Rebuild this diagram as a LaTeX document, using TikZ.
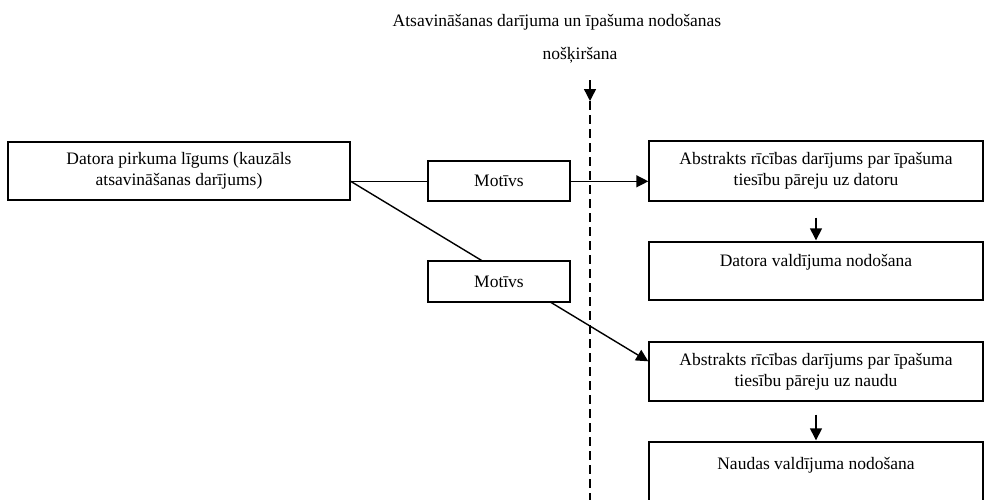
\documentclass[tikz,border=0pt]{standalone}
\usepackage{fontspec}
\setmainfont{Liberation Serif}
\usetikzlibrary{arrows.meta,calc}
\begin{document}
\begin{tikzpicture}[x=1pt,y=-1pt,
  box/.style={draw,line width=1.4pt,fill=white,inner sep=0pt,align=center,
    font=\fontsize{17.5}{21}\selectfont},
  txt/.style={inner sep=0pt,align=center,font=\fontsize{17.5}{21}\selectfont},
  conn/.style={line width=1.4pt},
  arr/.style={line width=1.4pt,-{Triangle[length=12pt,width=12pt]}}]
\useasboundingbox[fill=white] (0,0) rectangle (984,499);
% title
\node[txt,anchor=base] (t1) at (557,26) {Atsavināšanas darījuma un īpašuma nodošanas};
\node[txt,anchor=base] (t2) at (580,59) {nošķiršana};
\coordinate (ds) at (590,80);
\coordinate (dt) at (590,101);
\coordinate (de) at (590,505);
\draw[arr] (ds) -- (dt);
\draw[conn,dash pattern=on 9pt off 5pt] (dt) -- (de);
% boxes
\node[box,minimum width=342pt,minimum height=58pt] (L) at (179,171)
  {Datora pirkuma līgums (kauzāls\\atsavināšanas darījums)};
\node[box,minimum width=142pt,minimum height=40pt] (M1) at (499,181) {Motīvs};
\node[box,minimum width=334pt,minimum height=60pt] (R1) at (816,171)
  {Abstrakts rīcības darījums par īpašuma\\tiesību pāreju uz datoru};
\node[box,minimum width=334pt,minimum height=58pt] (R2) at (816,271) {};
\node[txt,anchor=base] (R2t) at ($(R2.north)+(0,25)$) {Datora valdījuma nodošana};
\node[box,minimum width=334pt,minimum height=59pt] (R3) at (816,371.5)
  {Abstrakts rīcības darījums par īpašuma\\tiesību pāreju uz naudu};
\node[box,minimum width=334pt,minimum height=70pt] (R4) at (816,477) {};
\node[txt,anchor=base] (R4t) at ($(R4.north)+(0,28)$) {Naudas valdījuma nodošana};
% connectors
\coordinate (j) at ($(L.north east)+(0,40)$);
\coordinate (r3in) at ($(R3.north west)+(0,20)$);
\draw[conn] (j) -- (j -| M1.west);
\draw[arr] (j -| M1.east) -- (j -| R1.west);
\draw[arr] (j) -- (r3in);
\node[box,minimum width=142pt,minimum height=41pt] (M2) at (499,281.5) {Motīvs};
\draw[arr] (R1.south) ++(0,16) coordinate (a1s) (a1s) -- ($(R2.north)+(0,-1)$);
\draw[arr] (R3.south) ++(0,13) coordinate (a2s) (a2s) -- ($(R4.north)+(0,-1)$);
\end{tikzpicture}
\end{document}
